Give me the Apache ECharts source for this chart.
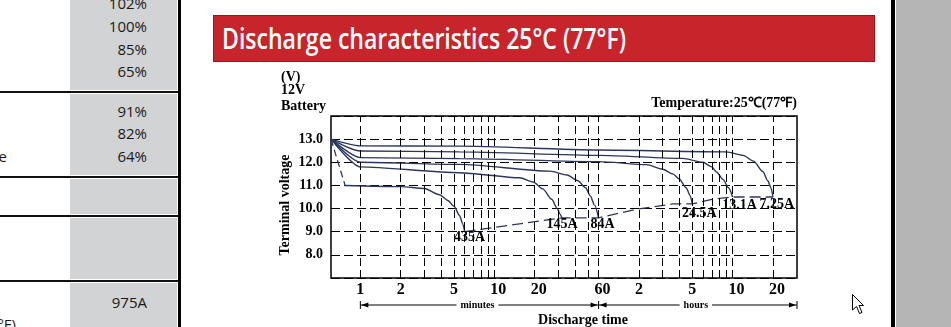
<!DOCTYPE html>
<html>
<head>
<meta charset="utf-8">
<script src="https://cdn.jsdelivr.net/npm/echarts@6/dist/echarts.min.js"></script>
<style>
  html, body { margin:0; padding:0; width:951px; height:327px; overflow:hidden; background:#fff; }
  .abs { position:absolute; }
  .cell { position:absolute; left:70px; width:107px; background:#d1d3d4; }
  .hline { position:absolute; left:0; width:179px; height:2px; background:#111; }
  .pct { position:absolute; right:0; width:147px; text-align:right; font-family:'Open Sans','Noto Sans',sans-serif; font-size:15px; color:#1a1a1a; line-height:18px; }
  #chart { position:absolute; left:0; top:0; width:951px; height:327px; z-index:2; }
</style>
</head>
<body>
<!-- left table fragment -->
<div class="cell" style="top:0;height:90px"></div>
<div class="cell" style="top:94px;height:81px"></div>
<div class="cell" style="top:179px;height:35px"></div>
<div class="cell" style="top:218px;height:61px"></div>
<div class="cell" style="top:283px;height:44px"></div>
<div class="hline" style="top:91px"></div>
<div class="hline" style="top:176px"></div>
<div class="hline" style="top:215px"></div>
<div class="hline" style="top:280px"></div>
<div class="abs" style="left:178px;top:0;width:3px;height:327px;background:#000"></div>
<div class="abs" style="left:0;top:0;width:147px;height:327px">
  <div class="pct" style="top:-6px">102%</div>
  <div class="pct" style="top:17px">100%</div>
  <div class="pct" style="top:40px">85%</div>
  <div class="pct" style="top:62px">65%</div>
  <div class="pct" style="top:102px">91%</div>
  <div class="pct" style="top:124px">82%</div>
  <div class="pct" style="top:147px">64%</div>
  <div class="pct" style="top:293px">975A</div>
</div>
<div class="abs" style="right:944px;top:147px;white-space:nowrap;font-family:'Open Sans',sans-serif;font-size:15px;color:#1a1a1a;line-height:18px">Temperature</div>
<div class="abs" style="right:935px;top:315px;white-space:nowrap;font-family:'Open Sans',sans-serif;font-size:15px;color:#1a1a1a;line-height:18px">25°C (77°F)</div>
<!-- banner -->
<div class="abs" style="left:213px;top:15px;width:660px;height:45px;background:#c8242c;border:1px solid #8e1b20;overflow:hidden">
  <span id="ttl" class="abs" style="left:8px;top:4px;white-space:nowrap;font-family:'Liberation Sans Narrow','Open Sans','Noto Sans',sans-serif;font-weight:600;font-size:28px;line-height:36px;color:#fff;transform-origin:0 0">Discharge characteristics 25°C (77°F)</span>
</div>
<!-- right edge -->
<div class="abs" style="left:891px;top:0;width:4px;height:327px;background:#000"></div>
<div class="abs" style="left:896px;top:0;width:55px;height:327px;background:#b5b5b5"></div>
<svg class="abs" style="left:852px;top:294px;z-index:3" width="14" height="22"><polygon points="0.5,0.5 0.5,16 4.5,12.5 7.5,19.5 10,18.5 7,11.5 11.5,11.5" fill="#fff" stroke="#000" stroke-width="1"/></svg>
<div id="chart"></div>
<script>
// ---- data (time in minutes, voltage in V) ----
const X_MIN = 0.604, X_MAX = 1815;
const gridMinutes = [1,2,3,4,5,6,7,8,9,10,20,30,40,50,60,120,180,240,300,360,420,480,540,600,1200];
const xTickValues = [1,2,5,10,20,60,120,300,600,1200];
const xTickLabels = ['1','2','5','10','20','60','2','5','10','20'];
const currents = ['435A','145A','84A','24.5A','13.1A','7.25A'];
const drop435 = [[0.604,13.0],[0.77,11.0]];
const curve435 = [[0.77,11.0],[2,10.95],[3,10.87],[3.9,10.6],[4.5,10.35],[5,10.1],[5.5,9.7],[5.8,9.35],[6.0,9.0]];
const curve145 = [[0.604,13.0],[1,11.8],[5.5,11.55],[15.5,11.33],[19.5,11.15],[23,10.85],[26.8,10.4],[29.5,10.0],[31,9.75],[32,9.6]];
const curve84  = [[0.604,13.0],[1,12.0],[5.5,11.91],[26,11.62],[35,11.45],[42,11.2],[48,10.9],[52,10.55],[56,10.15],[60,9.6]];
const curve24  = [[0.604,13.0],[1,12.2],[5.5,12.16],[60,12.03],[137,11.9],[180,11.7],[215,11.5],[240,11.28],[270,10.9],[290,10.55],[300,10.2]];
const curve13  = [[0.604,13.0],[1,12.49],[5.5,12.45],[60,12.3],[255,12.17],[360,12.0],[420,11.8],[457,11.57],[510,11.25],[560,10.9],[600,10.5]];
const curve7   = [[0.604,13.0],[1,12.71],[5.5,12.7],[60,12.53],[540,12.45],[720,12.3],[860,12.05],[1009,11.6],[1100,11.2],[1160,10.9],[1200,10.5]];
const endLine  = [[6.0,9.0],[32,9.6],[60,9.6],[120,9.99],[215,10.2],[300,10.2],[420,10.4],[600,10.5],[1200,10.5]];

const curves = [curve435, curve145, curve84, curve24, curve13, curve7];
const labelOffsets = [[5,6],[0,7],[4,7],[7,9],[7,8],[4,7]];

const SERIF = "'Liberation Serif','Times New Roman',serif";
const NAVY = '#2b3660';
const chart = echarts.init(document.getElementById('chart'), null, {renderer:'canvas'});

const series = [];
curves.forEach((c, i) => {
  series.push({
    name: currents[i], type:'line', data:c, showSymbol:false, smooth:0.25, smoothMonotone:'x',
    lineStyle:{color:NAVY, width:1.4}, z:3, silent:true
  });
});
series.push({ type:'line', data:drop435, showSymbol:false, lineStyle:{color:NAVY, width:1.3, type:[7,4]}, z:3, silent:true });
series.push({
  type:'line', data:endLine, showSymbol:false, lineStyle:{color:NAVY, width:1.3, type:[11,5]}, z:3, silent:true,
  markLine:{
    silent:true, symbol:['none','none'], animation:false,
    label:{show:false},
    lineStyle:{color:'#000', width:1, type:[8,4]},
    data: gridMinutes.map(v => ({xAxis:v}))
  }
});

chart.setOption({
  animation:false,
  backgroundColor:'transparent',
  grid:{left:331, top:116, width:466, height:162, show:true, borderColor:'#000', borderWidth:1.5, backgroundColor:'transparent'},
  xAxis:{type:'log', logBase:10, min:X_MIN, max:X_MAX,
    axisLine:{show:false}, axisTick:{show:false}, axisLabel:{show:false}, splitLine:{show:false}, minorSplitLine:{show:false}},
  yAxis:{type:'value', min:7, max:14, interval:1,
    axisLine:{show:false}, axisTick:{show:false},
    axisLabel:{showMinLabel:false, showMaxLabel:false, margin:8, formatter:v => v.toFixed(1),
      fontFamily:SERIF, fontWeight:'bold', fontSize:14, color:'#000'},
    splitLine:{show:true, lineStyle:{color:'#000', width:1, type:[9,4]}}},
  series: series
});

// ---- annotations placed through the axes ----
const P = (x, y) => chart.convertToPixel({gridIndex:0}, [x, y]);
const g = [];
// current labels at each curve's end point
curves.forEach((c, i) => {
  const e = c[c.length-1];
  const p = P(e[0], e[1]);
  g.push({type:'text', x:p[0]+labelOffsets[i][0], y:p[1]+labelOffsets[i][1], z:20,
    style:{text:currents[i], font:"bold 14px "+SERIF, fill:'#000', textAlign:'center', textVerticalAlign:'middle'}});
});
const yLab = 290;
xTickValues.forEach((v, i) => {
  g.push({type:'text', x:P(v,7)[0]-4, y:yLab, style:{text:xTickLabels[i], font:"bold 16px "+SERIF, fill:'#000', textAlign:'left', textVerticalAlign:'middle'}});
});
const yA = 305;
const xa = P(1,7)[0], xb = P(60,7)[0], xc = P(X_MAX,7)[0];
const stroke = {stroke:'#000', lineWidth:1};
g.push({type:'line', shape:{x1:xa, y1:yA, x2:xc, y2:yA}, style:stroke});
[xa, xb, xc].forEach(x => g.push({type:'line', shape:{x1:x, y1:yA-4, x2:x, y2:yA+4}, style:stroke}));
const head = (x, dir) => ({type:'polygon', shape:{points:[[x,yA],[x+dir*7,yA-2.5],[x+dir*7,yA+2.5]]}, style:{fill:'#000'}});
g.push(head(xa+1, 1), head(xb-1, -1), head(xb+1, 1), head(xc-1, -1));
g.push({type:'text', x:(xa+xb)/2-2, y:yA, z:10, style:{text:'minutes', font:"bold 10px "+SERIF, fill:'#000', textAlign:'center', textVerticalAlign:'middle', backgroundColor:'#fff', padding:[0,4]}});
g.push({type:'text', x:(xb+xc)/2-2, y:yA, z:10, style:{text:'hours', font:"bold 10px "+SERIF, fill:'#000', textAlign:'center', textVerticalAlign:'middle', backgroundColor:'#fff', padding:[0,4]}});
g.push({type:'text', x:583, y:320, style:{text:'Discharge time', font:"bold 14px "+SERIF, fill:'#000', textAlign:'center', textVerticalAlign:'middle'}});
g.push({type:'text', x:285, y:205, rotation:Math.PI/2, style:{text:'Terminal voltage', font:"bold 14px "+SERIF, fill:'#000', textAlign:'center', textVerticalAlign:'middle'}});
g.push({type:'text', x:281, y:77, style:{text:'(V)', font:"bold 14px "+SERIF, fill:'#000', textAlign:'left', textVerticalAlign:'middle'}});
g.push({type:'text', x:281, y:90, style:{text:'12V', font:"bold 14px "+SERIF, fill:'#000', textAlign:'left', textVerticalAlign:'middle'}});
g.push({type:'text', x:281, y:106, style:{text:'Battery', font:"bold 14px "+SERIF, fill:'#000', textAlign:'left', textVerticalAlign:'middle'}});
g.push({type:'text', x:P(X_MAX,14)[0], y:103, style:{text:'Temperature:25℃(77℉)', font:"bold 14px "+SERIF, fill:'#000', textAlign:'right', textVerticalAlign:'middle'}});
chart.setOption({graphic:{elements:g}});

function fitTitle(){
  const t = document.getElementById('ttl');
  t.style.transform = 'none';
  const w = t.getBoundingClientRect().width;
  if (w > 0) t.style.transform = 'scaleX(' + (404 / w) + ')';
}
fitTitle();
if (document.fonts && document.fonts.ready) document.fonts.ready.then(fitTitle);
</script>
</body>
</html>
